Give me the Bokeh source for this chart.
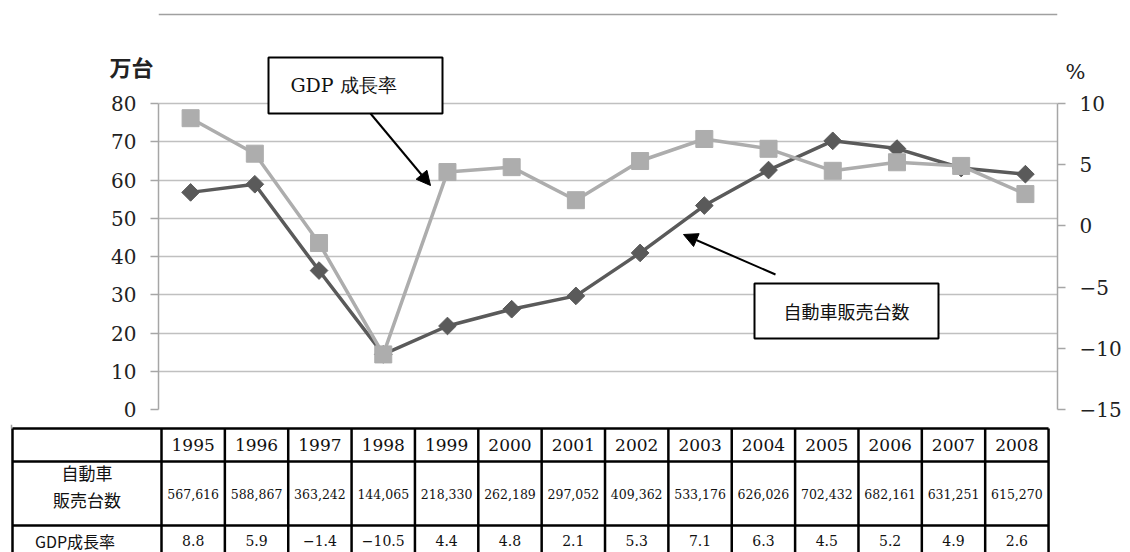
from bokeh.plotting import figure
from bokeh.models import Range1d, LinearAxis, FixedTicker, Label, BoxAnnotation, Arrow, NormalHead, Span
from bokeh.embed import file_html
from bokeh.resources import INLINE
from bokeh.core.properties import value

# ---------------- data ----------------
years = [1995, 1996, 1997, 1998, 1999, 2000, 2001, 2002, 2003, 2004, 2005, 2006, 2007, 2008]
car_sales = [567616, 588867, 363242, 144065, 218330, 262189, 297052, 409362, 533176,
             626026, 702432, 682161, 631251, 615270]
gdp_growth = [8.8, 5.9, -1.4, -10.5, 4.4, 4.8, 2.1, 5.3, 7.1, 6.3, 4.5, 5.2, 4.9, 2.6]
left_ticks = [0, 10, 20, 30, 40, 50, 60, 70, 80]
right_ticks = [-15, -10, -5, 0, 5, 10]
left_unit = "万台"
right_unit = "%"
car_label = "自動車販売台数"
gdp_label = "GDP 成長率"
row_labels = ["自動車", "販売台数", "GDP成長率"]

SERIF = "DejaVu Serif"
JP = "Noto Sans CJK JP"
DARK = "#5a5a5a"
LIGHT = "#adadad"
GRID = "#c0c0c0"
AXIS = "#a6a6a6"

n = len(years)
xs = [i + 0.5 for i in range(n)]
car_man = [v / 10000 for v in car_sales]

# ---------------- layout (pixels) ----------------
W = 1130
H1 = 424
PX_TOP80, PX_ZERO = 103, 409          # canvas y of the 80 and 0 gridlines
FR_L, FR_R = 158, 1057
L_MAX, R_MIN, R_MAX = 80, -15, 10
px_per_unit = (PX_ZERO - PX_TOP80) / L_MAX
y_end = PX_ZERO / px_per_unit          # frame reaches the top of the canvas
pct_end = R_MIN + (R_MAX - R_MIN) * y_end / L_MAX

# ---------------- chart ----------------
p = figure(width=W, height=H1, x_range=Range1d(0, n), y_range=Range1d(0, y_end),
           output_backend="svg", toolbar_location=None, x_axis_location=None,
           min_border_left=FR_L, min_border_right=W - FR_R, min_border_top=0,
           min_border_bottom=H1 - PX_ZERO)
p.outline_line_color = None
p.xgrid.visible = False
p.ygrid.ticker = FixedTicker(ticks=left_ticks)
p.ygrid.grid_line_color = GRID
p.ygrid.grid_line_width = 1.5

ya = p.yaxis[0]
ya.ticker = FixedTicker(ticks=left_ticks)
ya.bounds = (0, L_MAX)

p.extra_y_ranges = {"pct": Range1d(R_MIN, pct_end)}
ra = LinearAxis(y_range_name="pct", ticker=FixedTicker(ticks=right_ticks), bounds=(R_MIN, R_MAX))
p.add_layout(ra, "right")

for ax in [ya, ra]:
    ax.axis_line_color = AXIS
    ax.axis_line_width = 1.5
    ax.major_tick_line_color = AXIS
    ax.major_tick_line_width = 1.5
    ax.major_tick_out = 8
    ax.major_tick_in = 0
    ax.minor_tick_line_color = None
    ax.major_label_text_font = SERIF
    ax.major_label_text_font_size = "20px"
    ax.major_label_text_color = "#222222"
ya.major_label_standoff = 14
ra.major_label_standoff = 14

p.line(xs, car_man, line_color=DARK, line_width=3.5)
p.scatter(xs, car_man, marker="square", angle=0.7854, size=12.5, fill_color=DARK, line_color=DARK)
p.line(xs, gdp_growth, y_range_name="pct", line_color=LIGHT, line_width=3.5)
p.scatter(xs, gdp_growth, y_range_name="pct", marker="square", size=17,
          fill_color=LIGHT, line_color=LIGHT)

def ux(px):
    return (px - FR_L) / ((FR_R - FR_L) / n)

def uy(py):
    return (PX_ZERO - py) / px_per_unit

# top edge of the outer frame
p.add_layout(Span(location=uy(14), dimension="width", line_color="#a0a0a0", line_width=1.5))

# unit labels (placed in a side panel so that they are not clipped)
p.add_layout(Label(x=ux(131), y=uy(65), text=left_unit, text_font=JP, text_font_size="22px",
                   text_font_style="bold", text_align="center", text_baseline="middle",
                   text_color="#222222"), "left")
p.add_layout(Label(x=ux(1075), y=uy(71), text=right_unit, text_font=SERIF, text_font_size="21px",
                   text_align="center", text_baseline="middle", text_color="#222222"), "left")

# callout boxes
box_style = dict(fill_color="white", fill_alpha=1, line_color="black", line_alpha=1, line_width=2)
p.add_layout(BoxAnnotation(left=ux(268), right=ux(442), top=uy(57), bottom=uy(113), **box_style))
p.add_layout(Label(x=ux(343), y=uy(84), text=gdp_label, text_font=SERIF, text_font_size="19px",
                   text_align="center", text_baseline="middle", text_color="#111111"))
p.add_layout(Arrow(end=NormalHead(size=14, fill_color="black", line_color="black"),
                   x_start=ux(370), y_start=uy(113), x_end=ux(430), y_end=uy(185),
                   line_color="black", line_width=2))

p.add_layout(BoxAnnotation(left=ux(754), right=ux(938), top=uy(283), bottom=uy(338), **box_style))
p.add_layout(Label(x=ux(846), y=uy(310), text=car_label, text_font=JP, text_font_size="18px",
                   text_align="center", text_baseline="middle", text_color="#111111"))
p.add_layout(Arrow(end=NormalHead(size=14, fill_color="black", line_color="black"),
                   x_start=ux(775), y_start=uy(274), x_end=ux(683), y_end=uy(234),
                   line_color="black", line_width=2))

# ---------------- table ----------------
H2 = 552 - H1
t = figure(width=W, height=H2, x_range=Range1d(0, W), y_range=Range1d(H2, 0),
           output_backend="svg", toolbar_location=None, x_axis_location=None,
           y_axis_location=None, min_border=0)
t.outline_line_color = None
t.xgrid.visible = False
t.ygrid.visible = False

tbl_left, first_right, col_w = 12, 161, 63.36
row_y = [4, 37, 101, 145]
col_edges = [tbl_left] + [first_right + i * col_w for i in range(n + 1)]
centers = [first_right + (i + 0.5) * col_w for i in range(n)]

t.segment([11], [0], [11], [row_y[0]], line_color="#a0a0a0", line_width=1.5)
t.segment([tbl_left] * len(row_y), row_y, [col_edges[-1]] * len(row_y), row_y,
          line_color="black", line_width=2.5)
t.segment(col_edges, [row_y[0]] * len(col_edges), col_edges, [row_y[-1]] * len(col_edges),
          line_color="black", line_width=2.5)

hdr_y = (row_y[0] + row_y[1]) / 2
r2_y = (row_y[1] + row_y[2]) / 2
r3_y = 116

t.text(centers, [hdr_y] * n, text=[str(y) for y in years], text_font=value(SERIF),
       text_font_size=value("17px"), text_align="center", text_baseline="middle",
       text_color="#111111")
t.text(centers, [r2_y] * n, text=[f"{v:,}" for v in car_sales], text_font=value(SERIF),
       text_font_size=value("12.5px"), text_align="center", text_baseline="middle",
       text_color="#111111")
t.text(centers, [r3_y] * n, text=[f"{v:.1f}".replace("-", "\u2212") for v in gdp_growth],
       text_font=value(SERIF), text_font_size=value("14px"), text_align="center",
       text_baseline="middle", text_color="#111111")
lab_x = (tbl_left + first_right) / 2
t.text([lab_x, lab_x], [48, 75], text=row_labels[:2], text_font=value(JP),
       text_font_size=value("17px"), text_align="center", text_baseline="middle",
       text_color="#111111")
t.text([lab_x - 12], [r3_y], text=row_labels[2:], text_font=value(JP),
       text_font_size=value("16px"), text_align="center", text_baseline="middle",
       text_color="#111111")

open("out.html", "w").write(file_html((p, t), INLINE))
